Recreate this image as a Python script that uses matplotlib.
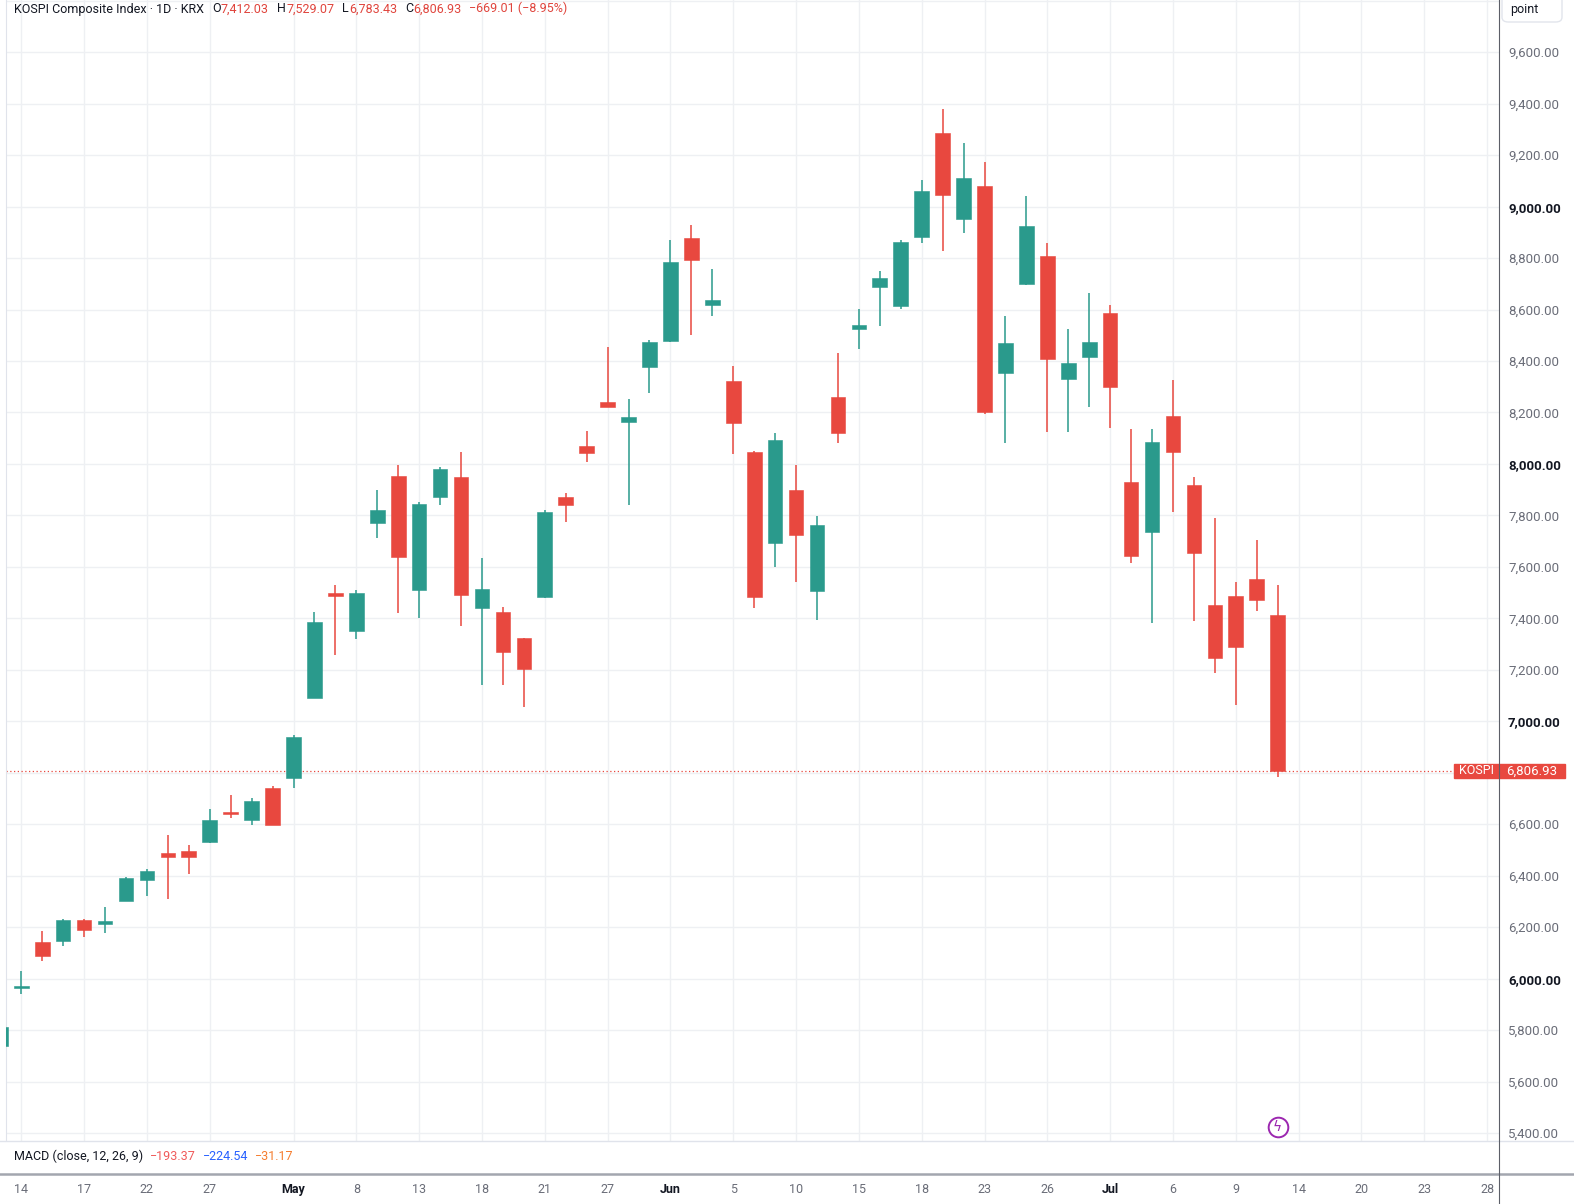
import matplotlib
matplotlib.use("Agg")
import matplotlib.pyplot as plt
import matplotlib.transforms as mtransforms
from matplotlib.lines import Line2D
from matplotlib.patches import Rectangle, FancyBboxPatch
import numpy as np

plt.rcParams['font.family'] = ['Roboto', 'DejaVu Sans']

# daily bars, the first one is only partly visible at the left edge
opens = [5738, 5964, 6143, 6148, 6227, 6214, 6303, 6385, 6488, 6496,
         6531, 6649, 6618, 6740, 6781, 7092, 7499, 7352, 7772, 7954,
         7512, 7871, 7950, 7442, 7425, 7323, 7484, 7872, 8069, 8240,
         8162, 8378, 8479, 8878, 8619, 8323, 8048, 7694, 7899, 7508,
         8262, 8524, 8689, 8615, 8881, 9285, 8951, 9080, 8353, 8698,
         8808, 8329, 8415, 8586, 7929, 7737, 8187, 7919, 7452, 7487,
         7552, 7412.03]
highs = [5820, 6031, 6187, 6231, 6231, 6280, 6395, 6425, 6560, 6520,
         6658, 6713, 6701, 6750, 6945, 7425, 7529, 7512, 7899, 7996,
         7852, 7988, 8047, 7636, 7446, 7325, 7821, 7886, 8130, 8456,
         8253, 8480, 8871, 8929, 8757, 8382, 8050, 8119, 7996, 7798,
         8430, 8602, 8750, 8871, 9104, 9378, 9249, 9173, 8575, 9042,
         8858, 8524, 8663, 8618, 8135, 8135, 8327, 7951, 7789, 7543,
         7705, 7529.07]
lows = [5730, 5941, 6068, 6127, 6163, 6176, 6300, 6323, 6311, 6407,
        6528, 6626, 6597, 6596, 6742, 7090, 7259, 7321, 7713, 7420,
        7403, 7841, 7372, 7141, 7141, 7057, 7480, 7775, 8008, 8220,
        7841, 8275, 8475, 8503, 8575, 8038, 7442, 7601, 7543, 7394,
        8081, 8447, 8538, 8602, 8860, 8829, 8899, 8195, 8081, 8695,
        8126, 8126, 8220, 8141, 7617, 7381, 7815, 7391, 7189, 7064,
        7430, 6783.43]
closes = [5813, 5973, 6089, 6228, 6189, 6222, 6391, 6418, 6474, 6474,
          6617, 6640, 6691, 6598, 6940, 7385, 7488, 7498, 7821, 7640,
          7845, 7981, 7490, 7514, 7271, 7205, 7814, 7841, 8044, 8223,
          8182, 8473, 8785, 8793, 8637, 8158, 7482, 8093, 7724, 7763,
          8119, 8540, 8722, 8862, 9061, 9047, 9110, 8200, 8469, 8925,
          8407, 8391, 8473, 8298, 7644, 8086, 8048, 7653, 7245, 7290,
          7473, 6806.93]

# x axis labels, placed at trading-day index (0 = Apr 14)
date_pos = [0, 3, 6, 9, 13, 16, 19, 22, 25, 28, 31, 34, 37, 40, 43, 46,
            49, 52, 55, 58, 61, 64, 67, 70]
date_labels = ['14', '17', '22', '27', 'May', '8', '13', '18', '21', '27',
               'Jun', '5', '10', '15', '18', '23', '26', 'Jul', '6', '9',
               '14', '20', '23', '28']
months = ['May', 'Jun', 'Jul']

price_ticks = list(range(5400, 9801, 200))

# MACD legend values
macd_vals = [-193.37, -224.54, -31.17]

GREEN = '#2a9a8c'
RED = '#e8483f'
DARK = '#131722'
GRAY = '#6a6d78'

W, H = 1574, 1204
fig = plt.figure(figsize=(W / 100, H / 100), dpi=100)


def fx(px):
    return px / W


def fy(py):
    return 1 - py / H


L, R, T, B = 6, 1499, 0, 1141
ax = fig.add_axes([fx(L), fy(B), fx(R - L), (B - T) / H])

o = np.array(opens)
c = np.array(closes)
idx = np.arange(-1, len(o) - 1)
cols = np.where(c >= o, GREEN, RED)

ax.vlines(idx, lows, highs, colors=cols, lw=1.1, zorder=2)
body_lo = np.minimum(o, c)
body_h = np.maximum(np.abs(c - o), 8)
ax.bar(idx, body_h, 0.7, bottom=body_lo, color=cols, edgecolor=cols,
       lw=0.4, zorder=3)

last = closes[-1]

ax.set_xlim(-0.73, 70.57)
ax.set_ylim(5369, 9803)
ax.set_xticks(date_pos)
ax.set_yticks(price_ticks)
ax.grid(True, color='#eef0f3', lw=1, zorder=0)
ax.set_axisbelow(True)
ax.tick_params(axis='x', length=0, labelbottom=False)
ax.yaxis.tick_right()
# the tick under the last-price tag is hidden, as on the chart
ax.set_yticklabels(['{:,.2f}'.format(v) if v <= 9600 and abs(v - last) > 60 else ''
                    for v in price_ticks])
ax.tick_params(axis='y', length=0, pad=6.5, labelsize=9.5, labelcolor=GRAY)
for lab, v in zip(ax.get_yticklabels(), price_ticks):
    if v % 1000 == 0:
        lab.set_color(DARK)
        lab.set_fontweight('bold')
for s in ['top', 'bottom', 'right']:
    ax.spines[s].set_visible(False)
ax.spines['left'].set_color('#e0e3eb')

# last price line and tag
ax.axhline(last, color=RED, ls=(0, (1, 2)), lw=0.9, zorder=1)
blend = mtransforms.blended_transform_factory(fig.transFigure, ax.transData)
fig.add_artist(Rectangle((fx(1454), last - 29), fx(111), 58, transform=blend,
                         color=RED, zorder=5))
fig.text(fx(1476), last, 'KOSPI', transform=blend, color='white', fontsize=9,
         ha='center', va='center', zorder=6)
fig.text(fx(1532), last, '{:,.2f}'.format(last), transform=blend, color='white',
         fontsize=9.5, ha='center', va='center', zorder=6)

# lightning icon
icon_tr = mtransforms.blended_transform_factory(ax.transData, ax.transAxes)
ax.scatter([len(o) - 2], [0.0123], s=200, transform=icon_tr, facecolor='white',
           edgecolor='#9c27b0', lw=1.4, zorder=6, clip_on=False)
ax.text(len(o) - 2, 0.0123, 'ϟ', transform=icon_tr, color='#9c27b0', fontsize=10,
        ha='center', va='center', family='DejaVu Sans', zorder=7)

# macd pane (collapsed) with the date axis
ax2 = fig.add_axes([fx(L), fy(1173), fx(R - L), (1173 - B) / H], sharex=ax)
ax2.set_yticks([])
ax2.grid(False)
for s in ax2.spines.values():
    s.set_visible(False)
ax2.tick_params(axis='x', length=0, pad=7, labelsize=9, labelcolor=GRAY,
                labelbottom=True)
ax2.set_xticklabels(date_labels)
for lab in ax2.get_xticklabels():
    if lab.get_text() in months:
        lab.set_color(DARK)
        lab.set_fontweight('bold')

# panel borders
fig.add_artist(Line2D([0, 1], [fy(1141), fy(1141)], transform=fig.transFigure,
                      color='#e0e3eb', lw=1))
fig.add_artist(Line2D([0, 1], [fy(1174), fy(1174)], transform=fig.transFigure,
                      color='#a3a6af', lw=1.8))
fig.add_artist(Line2D([fx(R), fx(R)], [0, 1], transform=fig.transFigure,
                      color='#5c5f68', lw=0.8, zorder=8))

# "point" unit box
fig.add_artist(FancyBboxPatch((fx(1502), fy(22)), fx(60), 28 / H,
                              boxstyle='round,pad=0,rounding_size=0.004',
                              transform=fig.transFigure, fc='white', ec='#e2e5ec', lw=1))
fig.text(fx(1510), fy(10), 'point', color=DARK, fontsize=9, va='center', ha='left')


def chain(a, parts, x, y, size):
    prev = a.text(fx(x), fy(y), parts[0][0], color=parts[0][1], fontsize=size,
                  va='center', ha='left', transform=fig.transFigure, zorder=9)
    for txt, col, gap in parts[1:]:
        prev = a.annotate(txt, xy=(1, 0), xycoords=prev, xytext=(gap, 0),
                          textcoords='offset points', va='bottom', ha='left',
                          color=col, fontsize=size, annotation_clip=False, zorder=9)


hdr_red = '#e0453d'
chain(ax, [('KOSPI Composite Index · 1D · KRX', DARK),
           ('O', DARK, 6), ('{:,.2f}'.format(opens[-1]), hdr_red, 0),
           ('H', DARK, 6), ('{:,.2f}'.format(highs[-1]), hdr_red, 0),
           ('L', DARK, 6), ('{:,.2f}'.format(lows[-1]), hdr_red, 0),
           ('C', DARK, 6), ('{:,.2f}'.format(closes[-1]), hdr_red, 0),
           ('−669.01 (−8.95%)', hdr_red, 5.5)], 14, 9, 9)

macd_txt = ['{:.2f}'.format(v).replace('-', '−') for v in macd_vals]
chain(ax2, [('MACD (close, 12, 26, 9)', DARK),
            (macd_txt[0], '#f05a5a', 5), (macd_txt[1], '#2962ff', 5),
            (macd_txt[2], '#f57c2e', 5)], 14, 1156, 9)

fig.savefig('out.png', dpi=100)
